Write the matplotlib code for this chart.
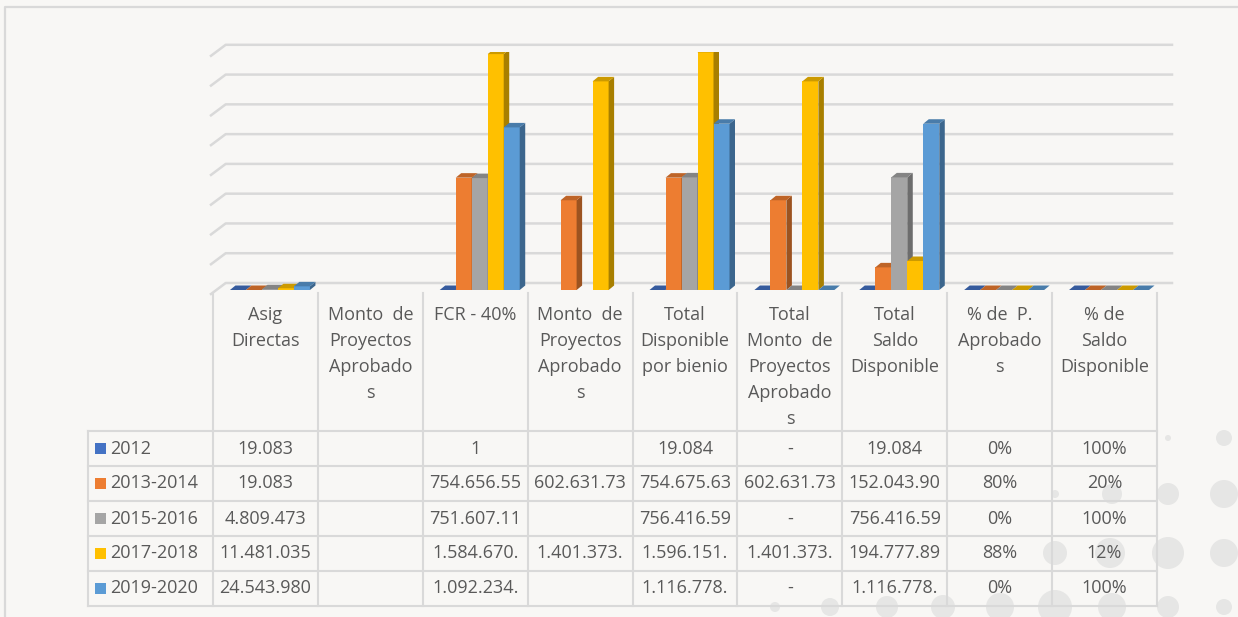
import numpy as np
import matplotlib.pyplot as plt
from matplotlib.patches import Polygon, Rectangle, Circle
from matplotlib.colors import to_rgb

plt.rcParams['font.family'] = ['Open Sans', 'DejaVu Sans']

categories = ["Asig\nDirectas",
              "Monto  de\nProyectos\nAprobado\ns",
              "FCR - 40%",
              "Monto  de\nProyectos\nAprobado\ns",
              "Total\nDisponible\npor bienio",
              "Total\nMonto  de\nProyectos\nAprobado\ns",
              "Total\nSaldo\nDisponible",
              "% de  P.\nAprobado\ns",
              "% de\nSaldo\nDisponible"]
series = ["2012", "2013-2014", "2015-2016", "2017-2018", "2019-2020"]
colors = ["#4472C4", "#ED7D31", "#A5A5A5", "#FFC000", "#5B9BD5"]

nan = np.nan
v2012 = [19.083, nan, 1, nan, 19.084, 0, 19.084, 0, 1.00]
v2013 = [19.083, nan, 754656.55, 602631.73, 754675.63, 602631.73, 152043.90, 0.80, 0.20]
v2015 = [4809.473, nan, 751607.11, nan, 756416.59, 0, 756416.59, 0, 1.00]
v2017 = [11481.035, nan, 1584670.0, 1401373.0, 1596151.0, 1401373.0, 194777.89, 0.88, 0.12]
v2019 = [24543.980, nan, 1092234.0, nan, 1116778.0, 0, 1116778.0, 0, 1.00]
values = [v2012, v2013, v2015, v2017, v2019]

t2012 = ["19.083", "", "1", "", "19.084", "-", "19.084", "0%", "100%"]
t2013 = ["19.083", "", "754.656.55", "602.631.73", "754.675.63", "602.631.73", "152.043.90", "80%", "20%"]
t2015 = ["4.809.473", "", "751.607.11", "", "756.416.59", "-", "756.416.59", "0%", "100%"]
t2017 = ["11.481.035", "", "1.584.670.", "1.401.373.", "1.596.151.", "1.401.373.", "194.777.89", "88%", "12%"]
t2019 = ["24.543.980", "", "1.092.234.", "", "1.116.778.", "-", "1.116.778.", "0%", "100%"]
cell_text = [t2012, t2013, t2015, t2017, t2019]

# layout in pixels
W, H = 1238, 617
x0, x1 = 213, 1157
y_base, y_top = 290, 51.8
col_w = (x1 - x0) / len(categories)
row_lines = [431, 466, 501, 536, 571, 605.5]
line_col = '#d9d9d9'
txt_col = '#595959'
fsize = 13

fig = plt.figure(figsize=(W / 100, H / 100), dpi=100, facecolor='#f8f7f5')

# background layer: dots, frame and data table
bg = fig.add_axes([0, 0, 1, 1], zorder=0)
bg.set_xlim(0, W)
bg.set_ylim(H, 0)
bg.axis('off')

dots = [(1168, 438, 3), (1224, 438, 8),
        (1055, 494, 4), (1112, 494, 10), (1168, 494, 11), (1224, 494, 14),
        (1055, 553, 12), (1110, 553, 15), (1168, 553, 16), (1224, 553, 14),
        (775, 607, 5), (830, 607, 9), (887, 607, 11), (943, 607, 12),
        (1000, 607, 14), (1055, 607, 17), (1112, 607, 14), (1168, 607, 11),
        (1224, 607, 8)]
for cx, cy, r in dots:
    bg.add_patch(Circle((cx, cy), r, color='#e6e6e5', lw=0, zorder=0))

bg.plot([5, 5, W + 5], [H + 5, 7, 7], color=line_col, lw=1.6, zorder=1)

# table grid
for k in range(len(categories) + 1):
    xv = x0 + k * col_w
    bg.plot([xv, xv], [293, row_lines[-1]], color=line_col, lw=1.5, zorder=1)
bg.plot([88, 88], [row_lines[0], row_lines[-1]], color=line_col, lw=1.5, zorder=1)
for yv in row_lines:
    bg.plot([88, x1], [yv, yv], color=line_col, lw=1.5, zorder=1)

# column headers
for i, cat in enumerate(categories):
    xc = x0 + (i + 0.5) * col_w
    for k, part in enumerate(cat.split('\n')):
        bg.text(xc, 315 + 26 * k, part, ha='center', va='center',
                fontsize=fsize, color=txt_col, zorder=2)

# row labels and values
for r, (name, c, row) in enumerate(zip(series, colors, cell_text)):
    yc = (row_lines[r] + row_lines[r + 1]) / 2
    bg.add_patch(Rectangle((95, yc - 5.5), 11, 11, color=c, lw=0, zorder=2))
    bg.text(110, yc, name, ha='left', va='center', fontsize=fsize,
            color=txt_col, zorder=2)
    for i, s in enumerate(row):
        bg.text(x0 + (i + 0.5) * col_w, yc, s, ha='center', va='center',
                fontsize=fsize, color=txt_col, zorder=2)

# chart area
ax = fig.add_axes([x0 / W, 1 - y_base / H, (x1 - x0) / W, (y_base - y_top) / H],
                  zorder=1)
ax.set_xlim(-0.5, len(categories) - 0.5)
ax.set_ylim(0, 1.6e6)
ax.axis('off')
ax.patch.set_alpha(0)

px2x = len(categories) / (x1 - x0)
px2y = 1.6e6 / (y_base - y_top)

# back wall gridlines with the slanted side edge
for v in np.arange(0, 1.6e6 + 1, 2e5):
    yb = v + 7 * px2y
    ax.plot([-0.5 - 2 * px2x, -0.5 + 12.7 * px2x, 8.5 + 15 * px2x],
            [v - 4 * px2y, yb, yb], color=line_col, lw=1.8,
            clip_on=False, zorder=1)


def shade(c, f):
    return tuple(np.array(to_rgb(c)) * f)


bw = 16 * px2x
shift = 4.5 * px2x
ddx = 5.5 * px2x
ddy = 4.5 * px2y
for j, (vals, c) in enumerate(zip(values, colors)):
    vals = np.array(vals, dtype=float)
    idx = np.where(~np.isnan(vals))[0]
    xs = idx + (j - 2) * bw + shift
    hs = vals[idx]
    ax.bar(xs, hs, width=bw, color=c, lw=0, zorder=2 + j)
    for xc, h in zip(xs, hs):
        xl, xr = xc - bw / 2, xc + bw / 2
        ax.add_patch(Polygon([(xr, 0), (xr, h), (xr + ddx, h + ddy), (xr + ddx, ddy)],
                             closed=True, color=shade(c, 0.66), lw=0, zorder=2 + j))
        ax.add_patch(Polygon([(xl, h), (xr, h), (xr + ddx, h + ddy), (xl + ddx, h + ddy)],
                             closed=True, color=shade(c, 0.8), lw=0, zorder=2 + j))

fig.savefig('out.png', dpi=100, facecolor=fig.get_facecolor())
